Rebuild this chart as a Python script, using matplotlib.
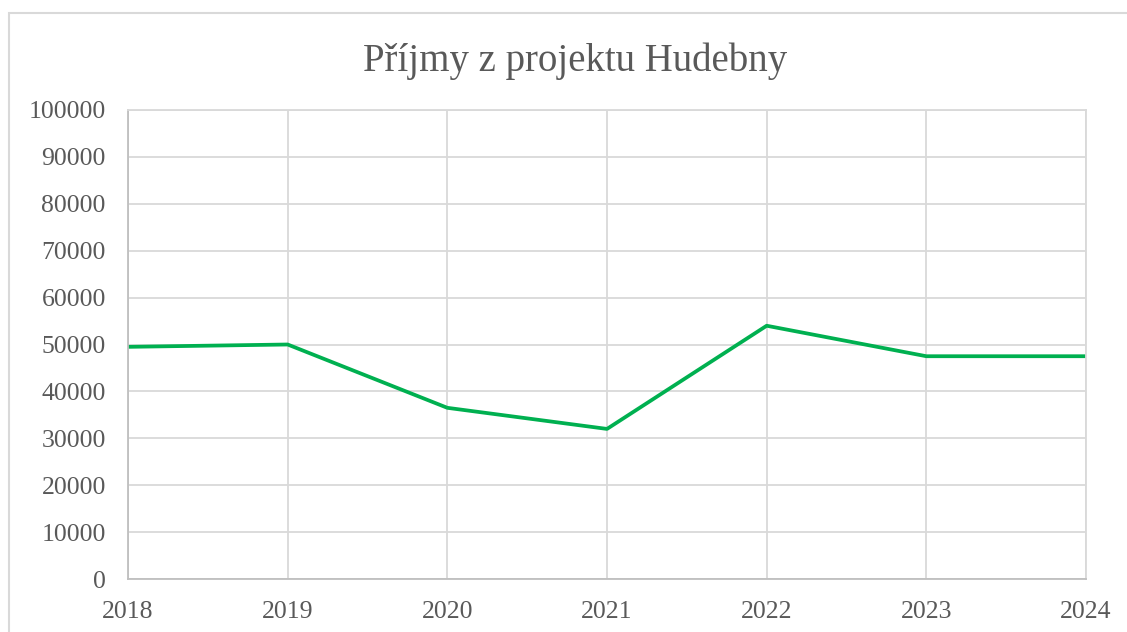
import matplotlib.pyplot as plt
from matplotlib.patches import Rectangle

years = [2018, 2019, 2020, 2021, 2022, 2023, 2024]
prijmy = [49500, 50000, 36500, 32000, 54000, 47500, 47500]
y_ticks = list(range(0, 100001, 10000))

plt.rcParams['font.family'] = ['Liberation Serif', 'DejaVu Serif']
text_col = '#595959'
grid_col = '#d9d9d9'

fig = plt.figure(figsize=(11.27, 6.32), dpi=100)
ax = fig.add_axes([128 / 1127, 53 / 632, 958 / 1127, 469 / 632])

# outer chart frame (runs off the right and bottom edge)
fig.patches.append(Rectangle((9 / 1127, -0.1), 1.2, (632 - 13) / 632 + 0.1,
                             transform=fig.transFigure, fill=False,
                             edgecolor=grid_col, linewidth=1.5))

ax.plot(years, prijmy, color='#00B050', linewidth=2.7, solid_capstyle='butt')

ax.set_xlim(2018, 2024)
ax.set_ylim(0, 100000)
ax.set_xticks(years)
ax.set_yticks(y_ticks)
ax.grid(True, color=grid_col, linewidth=1.3)
ax.set_axisbelow(True)

for side in ['top', 'right']:
    ax.spines[side].set_color(grid_col)
    ax.spines[side].set_linewidth(1.3)
for side in ['left', 'bottom']:
    ax.spines[side].set_color('#bfbfbf')
    ax.spines[side].set_linewidth(1.3)

ax.tick_params(length=0, labelsize=18.5, labelcolor=text_col)
ax.tick_params(axis='x', pad=16)
ax.tick_params(axis='y', pad=16)

fig.text(575 / 1127, 1 - 61 / 632, 'Příjmy z projektu Hudebny', ha='center', va='center',
         fontsize=28, color=text_col)

fig.savefig('out.png', dpi=100)
